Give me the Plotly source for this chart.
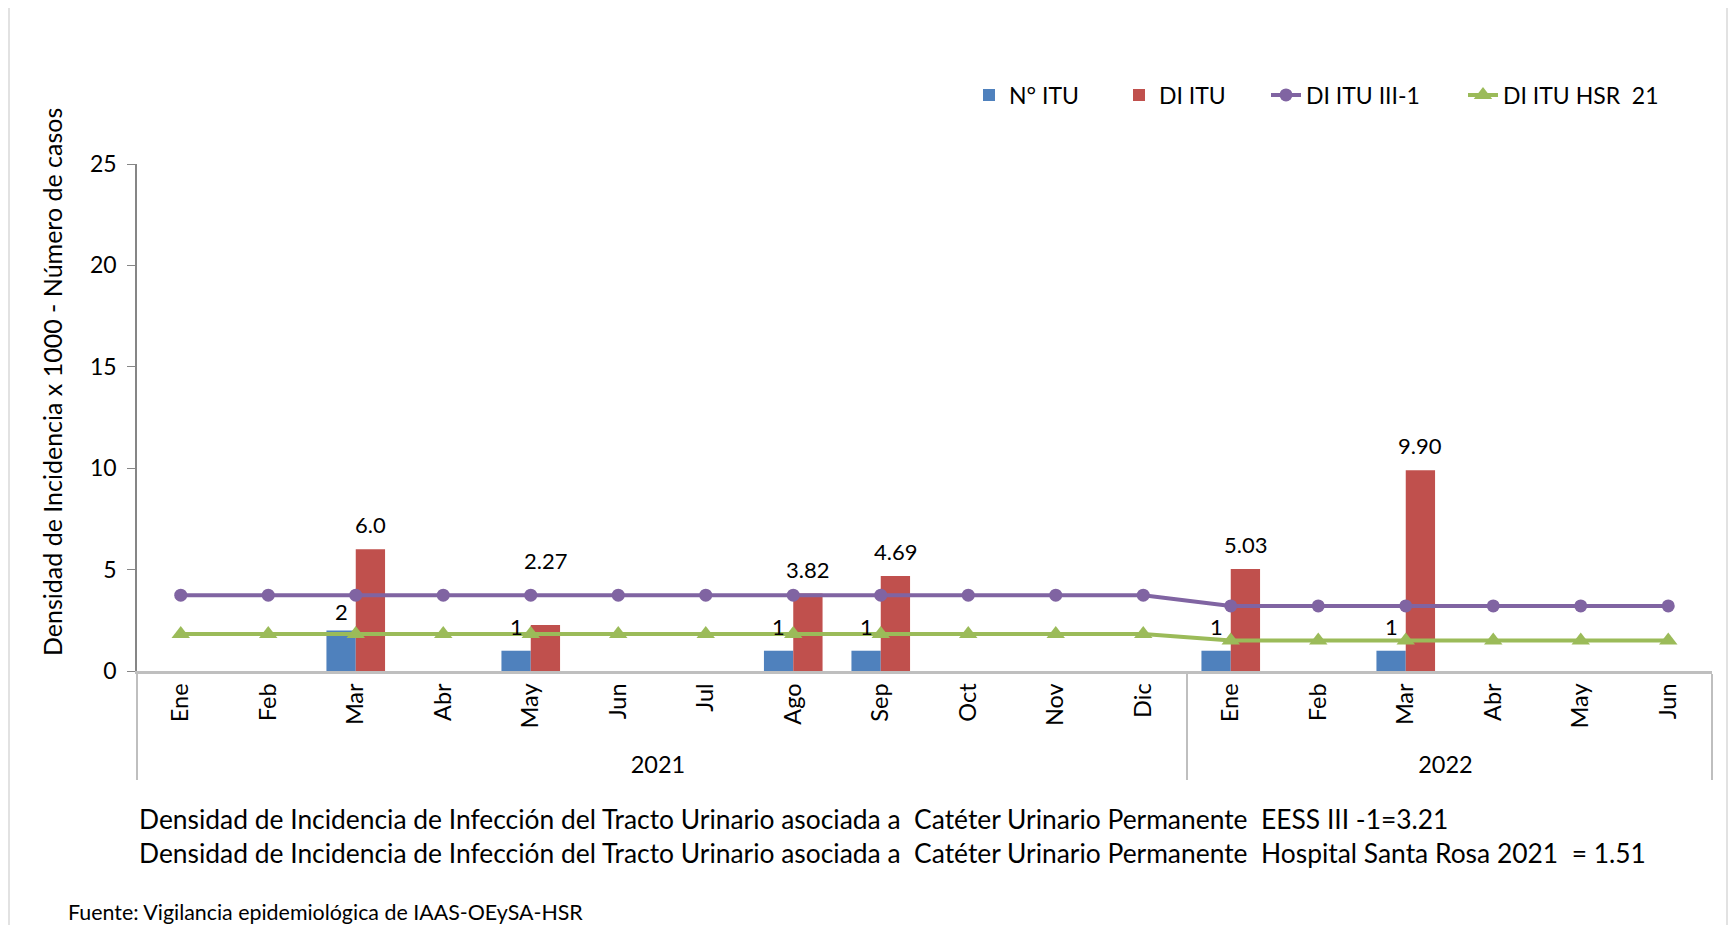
import plotly.graph_objects as go

# ── datos ────────────────────────────────────────────────────
years = ["2021"] * 12 + ["2022"] * 6
months = ["Ene", "Feb", "Mar", "Abr", "May", "Jun", "Jul", "Ago", "Sep", "Oct", "Nov", "Dic",
          "Ene", "Feb", "Mar", "Abr", "May", "Jun"]

n_itu = [None, None, 2, None, 1, None, None, 1, 1, None, None, None,
         1, None, 1, None, None, None]
di_itu = [None, None, 6.0, None, 2.27, None, None, 3.82, 4.69, None, None, None,
          5.03, None, 9.90, None, None, None]
di_itu_iii1 = [3.74, 3.74, 3.74, 3.74, 3.74, 3.74, 3.74, 3.74, 3.74, 3.74, 3.74, 3.74,
               3.21, 3.21, 3.21, 3.21, 3.21, 3.21]
di_itu_hsr = [1.83, 1.83, 1.83, 1.83, 1.83, 1.83, 1.83, 1.83, 1.83, 1.83, 1.83, 1.83,
              1.51, 1.51, 1.51, 1.51, 1.51, 1.51]

n_itu_labels = ["", "", "2", "", "1", "", "", "1", "1", "", "", "", "1", "", "1", "", "", ""]
di_itu_labels = ["", "", "6.0", "", "2.27", "", "", "3.82", "4.69", "", "", "",
                 "5.03", "", "9.90", "", "", ""]

y_ticks = [0, 5, 10, 15, 20, 25]

# ── estilos ──────────────────────────────────────────────────
_BLUE = "#4f81bd"
_RED = "#c0504d"
_PURPLE = "#8064a2"
_GREEN = "#9bbb59"
_FONT = "Lato, 'Liberation Sans', sans-serif"
_BARGAP = 0.33
_HALF = (1 - _BARGAP) / 4        # desplazamiento del centro de cada barra
_LIFT_RED = {4: 40}              # 2.27 subida para no tapar las líneas
_LIFT_BLUE = {2: -6}

# el navegador deja 8px de margen en <body>
W, H = 1720, 917
L, R, T, B = 129, 16, 156, 254
pw, ph = W - L - R, H - T - B


def px(xp):
    return (xp - 8 - L) / pw


def py(yp):
    return (H - B - (yp - 8)) / ph


x = [years, months]

fig = go.Figure()
fig.add_trace(go.Bar(x=x, y=n_itu, name="N° ITU", marker_color=_BLUE,
                     marker_line_width=0, legend="legend"))
fig.add_trace(go.Bar(x=x, y=di_itu, name="DI ITU", marker_color=_RED,
                     marker_line_width=0, legend="legend2"))
fig.add_trace(go.Scatter(x=x, y=di_itu_iii1, name="DI ITU III-1", mode="lines+markers",
                         line=dict(color=_PURPLE, width=4), legend="legend3",
                         marker=dict(symbol="circle", size=13, color=_PURPLE)))
fig.add_trace(go.Scatter(x=x, y=di_itu_hsr, name="DI ITU HSR  21", mode="lines+markers",
                         line=dict(color=_GREEN, width=4), legend="legend4",
                         marker=dict(symbol="triangle-up", size=16, color=_GREEN)))
# eje auxiliar numérico para ubicar etiquetas de datos
fig.add_trace(go.Scatter(x=[0, len(months) - 1], y=[0, 0], xaxis="x2", mode="markers",
                         marker=dict(opacity=0), showlegend=False, hoverinfo="skip"))

annotations = []
for i, (v, t) in enumerate(zip(n_itu, n_itu_labels)):
    if v is not None:
        annotations.append(dict(x=i - _HALF, y=v, xref="x2", yref="y", text=t,
                                showarrow=False, yanchor="bottom", yshift=9 + _LIFT_BLUE.get(i, 0),
                                font=dict(size=22, color="#000")))
for i, (v, t) in enumerate(zip(di_itu, di_itu_labels)):
    if v is not None:
        annotations.append(dict(x=i + _HALF, y=v, xref="x2", yref="y", text=t,
                                showarrow=False, yanchor="bottom", yshift=9 + _LIFT_RED.get(i, 0),
                                font=dict(size=22, color="#000")))

annotations.append(dict(x=px(52), y=py(382), xref="paper", yref="paper", textangle=-90,
                        xanchor="center", yanchor="middle",
                        text="Densidad de Incidencia x 1000 - Número de casos",
                        showarrow=False, font=dict(size=25, color="#000")))

notes = [
    ("Densidad de Incidencia de Infección del Tracto Urinario asociada a  Catéter Urinario Permanente  EESS III -1=3.21", 137, 819, 26.4),
    ("Densidad de Incidencia de Infección del Tracto Urinario asociada a  Catéter Urinario Permanente  Hospital Santa Rosa 2021  = 1.51", 137, 853, 26.4),
    ("Fuente: Vigilancia epidemiológica de IAAS-OEySA-HSR", 66, 912, 21.4),
]
for text, xp, yp, size in notes:
    annotations.append(dict(x=px(xp), y=py(yp), xref="paper", yref="paper",
                            xanchor="left", yanchor="middle", text=text, showarrow=False,
                            font=dict(size=size, color="#000")))

legend_style = dict(orientation="h", xanchor="left", yanchor="middle", y=py(95),
                    font=dict(size=23), bgcolor="rgba(0,0,0,0)")

fig.update_layout(
    width=W, height=H,
    margin=dict(l=L, r=R, t=T, b=B, autoexpand=False),
    paper_bgcolor="white", plot_bgcolor="white",
    font=dict(family=_FONT, color="#000"),
    barmode="group", bargap=_BARGAP, bargroupgap=0,
    showlegend=True,
    legend=dict(x=px(969), **legend_style),
    legend2=dict(x=px(1119), **legend_style),
    legend3=dict(x=px(1266), **legend_style),
    legend4=dict(x=px(1463), **legend_style),
    annotations=annotations,
    shapes=[dict(type="rect", xref="paper", yref="paper",
                 x0=px(9), x1=px(1727), y0=py(931), y1=py(6),
                 line=dict(color="#d9d9d9", width=1.5), layer="below")],
    xaxis=dict(type="multicategory", range=[-0.5, len(months) - 0.5],
               showline=True, linecolor="#bfbfbf", linewidth=3,
               ticks="", tickangle=-90, tickfont=dict(size=23.5),
               showdividers=True, dividercolor="#bfbfbf", dividerwidth=2,
               showgrid=False, zeroline=False),
    xaxis2=dict(overlaying="x", range=[-0.5, len(months) - 0.5], visible=False),
    yaxis=dict(range=[0, 25], tickvals=y_ticks, showline=True, linecolor="#868686",
               linewidth=1.5, ticks="outside", ticklen=8, tickcolor="#868686",
               ticklabelstandoff=6,
               tickfont=dict(size=23), showgrid=False, zeroline=False),
)

fig.write_html("out.html")
